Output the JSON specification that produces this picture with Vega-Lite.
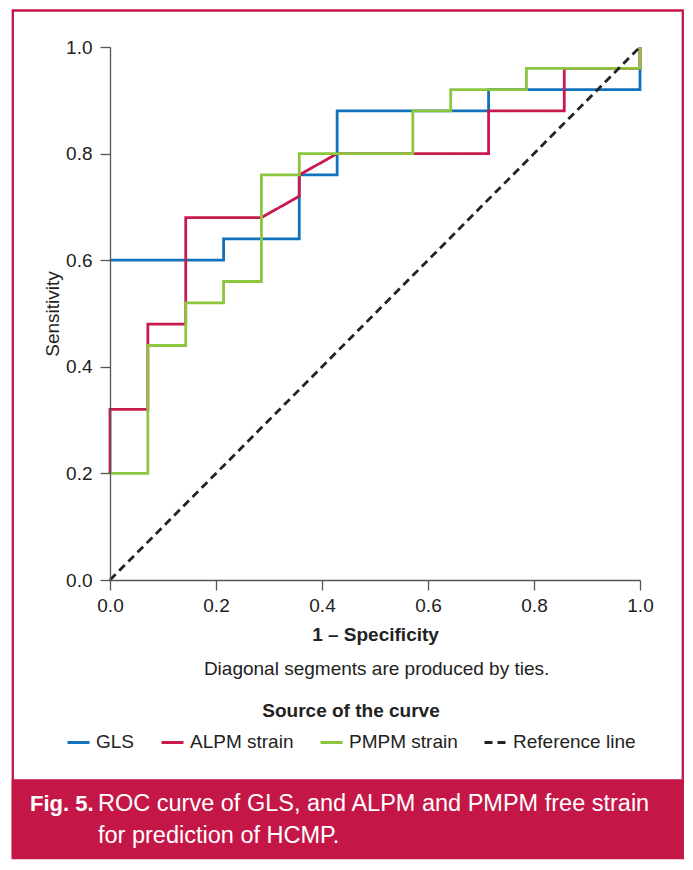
{
  "$schema": "https://vega.github.io/schema/vega-lite/v6.json",
  "width": 530,
  "height": 533,
  "autosize": {"type": "none"},
  "padding": {"left": 110, "top": 47, "right": 53, "bottom": 290},
  "background": "white",
  "data": {
    "values": [
      {"curve": "GLS", "step": 0, "fpr": 0, "tpr": 0.6},
      {"curve": "GLS", "step": 1, "fpr": 0.2143, "tpr": 0.6},
      {"curve": "GLS", "step": 2, "fpr": 0.2143, "tpr": 0.64},
      {"curve": "GLS", "step": 3, "fpr": 0.3571, "tpr": 0.64},
      {"curve": "GLS", "step": 4, "fpr": 0.3571, "tpr": 0.76},
      {"curve": "GLS", "step": 5, "fpr": 0.4286, "tpr": 0.76},
      {"curve": "GLS", "step": 6, "fpr": 0.4286, "tpr": 0.88},
      {"curve": "GLS", "step": 7, "fpr": 0.7143, "tpr": 0.88},
      {"curve": "GLS", "step": 8, "fpr": 0.7143, "tpr": 0.92},
      {"curve": "GLS", "step": 9, "fpr": 1, "tpr": 0.92},
      {"curve": "GLS", "step": 10, "fpr": 1, "tpr": 1},
      {"curve": "ALPM strain", "step": 0, "fpr": 0, "tpr": 0.2},
      {"curve": "ALPM strain", "step": 1, "fpr": 0, "tpr": 0.32},
      {"curve": "ALPM strain", "step": 2, "fpr": 0.0714, "tpr": 0.32},
      {"curve": "ALPM strain", "step": 3, "fpr": 0.0714, "tpr": 0.48},
      {"curve": "ALPM strain", "step": 4, "fpr": 0.1429, "tpr": 0.48},
      {"curve": "ALPM strain", "step": 5, "fpr": 0.1429, "tpr": 0.68},
      {"curve": "ALPM strain", "step": 6, "fpr": 0.2857, "tpr": 0.68},
      {"curve": "ALPM strain", "step": 7, "fpr": 0.3571, "tpr": 0.72},
      {"curve": "ALPM strain", "step": 8, "fpr": 0.3571, "tpr": 0.76},
      {"curve": "ALPM strain", "step": 9, "fpr": 0.4286, "tpr": 0.8},
      {"curve": "ALPM strain", "step": 10, "fpr": 0.7143, "tpr": 0.8},
      {"curve": "ALPM strain", "step": 11, "fpr": 0.7143, "tpr": 0.88},
      {"curve": "ALPM strain", "step": 12, "fpr": 0.8571, "tpr": 0.88},
      {"curve": "ALPM strain", "step": 13, "fpr": 0.8571, "tpr": 0.96},
      {"curve": "ALPM strain", "step": 14, "fpr": 1, "tpr": 0.96},
      {"curve": "ALPM strain", "step": 15, "fpr": 1, "tpr": 1},
      {"curve": "PMPM strain", "step": 0, "fpr": 0, "tpr": 0.2},
      {"curve": "PMPM strain", "step": 1, "fpr": 0.0714, "tpr": 0.2},
      {"curve": "PMPM strain", "step": 2, "fpr": 0.0714, "tpr": 0.44},
      {"curve": "PMPM strain", "step": 3, "fpr": 0.1429, "tpr": 0.44},
      {"curve": "PMPM strain", "step": 4, "fpr": 0.1429, "tpr": 0.52},
      {"curve": "PMPM strain", "step": 5, "fpr": 0.2143, "tpr": 0.52},
      {"curve": "PMPM strain", "step": 6, "fpr": 0.2143, "tpr": 0.56},
      {"curve": "PMPM strain", "step": 7, "fpr": 0.2857, "tpr": 0.56},
      {"curve": "PMPM strain", "step": 8, "fpr": 0.2857, "tpr": 0.76},
      {"curve": "PMPM strain", "step": 9, "fpr": 0.3571, "tpr": 0.76},
      {"curve": "PMPM strain", "step": 10, "fpr": 0.3571, "tpr": 0.8},
      {"curve": "PMPM strain", "step": 11, "fpr": 0.5714, "tpr": 0.8},
      {"curve": "PMPM strain", "step": 12, "fpr": 0.5714, "tpr": 0.88},
      {"curve": "PMPM strain", "step": 13, "fpr": 0.6429, "tpr": 0.88},
      {"curve": "PMPM strain", "step": 14, "fpr": 0.6429, "tpr": 0.92},
      {"curve": "PMPM strain", "step": 15, "fpr": 0.7857, "tpr": 0.92},
      {"curve": "PMPM strain", "step": 16, "fpr": 0.7857, "tpr": 0.96},
      {"curve": "PMPM strain", "step": 17, "fpr": 1, "tpr": 0.96},
      {"curve": "PMPM strain", "step": 18, "fpr": 1, "tpr": 1},
      {"curve": "Reference line", "step": 0, "fpr": 0, "tpr": 0},
      {"curve": "Reference line", "step": 1, "fpr": 1, "tpr": 1}
    ]
  },
  "layer": [
    {
      "data": {"values": [{}]},
      "mark": {"type": "rect", "fill": "white", "stroke": "#c51648", "strokeWidth": 2.3},
      "encoding": {
        "x": {"datum": -0.1834, "type": "quantitative", "scale": {"domain": [0, 1], "nice": false}},
        "x2": {"datum": 1.08075},
        "y": {"datum": 1.06848, "type": "quantitative", "scale": {"domain": [0, 1], "nice": false}},
        "y2": {"datum": -0.52158}
      }
    },
    {
      "data": {"values": [{}]},
      "mark": {"type": "rect", "fill": "#c51648"},
      "encoding": {
        "x": {"datum": -0.18547, "type": "quantitative", "scale": {"domain": [0, 1], "nice": false}},
        "x2": {"datum": 1.08302},
        "y": {"datum": -0.37392, "type": "quantitative", "scale": {"domain": [0, 1], "nice": false}},
        "y2": {"datum": -0.52345}
      }
    },
    {
      "transform": [{"filter": "datum.curve === 'GLS'"}],
      "mark": {"type": "line", "strokeWidth": 2.8, "clip": false},
      "encoding": {
        "x": {"field": "fpr", "type": "quantitative", "scale": {"domain": [0, 1], "nice": false},
          "axis": {"title": "1 – Specificity", "values": [0, 0.2, 0.4, 0.6, 0.8, 1], "format": ".1f", "labelFlush": false, "labelPadding": 6, "titlePadding": 10, "titleFontWeight": "bold", "zindex": 1}},
        "y": {"field": "tpr", "type": "quantitative", "scale": {"domain": [0, 1], "nice": false},
          "axis": {"title": "Sensitivity", "values": [0, 0.2, 0.4, 0.6, 0.8, 1], "format": ".1f", "labelFlush": false, "labelPadding": 8, "titlePadding": 3, "titleFontWeight": "normal", "zindex": 1}},
        "order": {"field": "step", "type": "quantitative"},
        "color": {"field": "curve", "type": "nominal",
          "scale": {"domain": ["GLS", "ALPM strain", "PMPM strain", "Reference line"], "range": ["#1173bb", "#c81a4c", "#8cc63f", "#222222"]},
          "legend": {"title": "Source of the curve", "orient": "none", "legendX": -44, "legendY": 654.7, "direction": "horizontal", "columns": 4, "titleAnchor": "middle", "titleFontSize": 19, "titleFontWeight": "bold", "titleColor": "#222", "titlePadding": 9, "labelFontSize": 19, "labelColor": "#222", "labelOffset": 5, "columnPadding": 20, "symbolType": "stroke", "symbolSize": 484, "symbolStrokeWidth": 3, "padding": 0}},
        "strokeDash": {"field": "curve", "type": "nominal",
          "scale": {"domain": ["GLS", "ALPM strain", "PMPM strain", "Reference line"], "range": [[1, 0], [1, 0], [1, 0], [8, 5]]},
          "legend": {"title": "Source of the curve", "orient": "none", "legendX": -44, "legendY": 654.7, "direction": "horizontal", "columns": 4, "titleAnchor": "middle", "titleFontSize": 19, "titleFontWeight": "bold", "titleColor": "#222", "titlePadding": 9, "labelFontSize": 19, "labelColor": "#222", "labelOffset": 5, "columnPadding": 20, "symbolType": "stroke", "symbolSize": 484, "symbolStrokeWidth": 3, "padding": 0}}
      }
    },
    {
      "transform": [{"filter": "datum.curve === 'ALPM strain'"}],
      "mark": {"type": "line", "strokeWidth": 2.8, "clip": false},
      "encoding": {
        "x": {"field": "fpr", "type": "quantitative", "scale": {"domain": [0, 1], "nice": false}},
        "y": {"field": "tpr", "type": "quantitative", "scale": {"domain": [0, 1], "nice": false}},
        "order": {"field": "step", "type": "quantitative"},
        "color": {"field": "curve", "type": "nominal"},
        "strokeDash": {"field": "curve", "type": "nominal"}
      }
    },
    {
      "transform": [{"filter": "datum.curve === 'PMPM strain'"}],
      "mark": {"type": "line", "strokeWidth": 2.8, "clip": false},
      "encoding": {
        "x": {"field": "fpr", "type": "quantitative", "scale": {"domain": [0, 1], "nice": false}},
        "y": {"field": "tpr", "type": "quantitative", "scale": {"domain": [0, 1], "nice": false}},
        "order": {"field": "step", "type": "quantitative"},
        "color": {"field": "curve", "type": "nominal"},
        "strokeDash": {"field": "curve", "type": "nominal"}
      }
    },
    {
      "transform": [{"filter": "datum.curve === 'Reference line'"}],
      "mark": {"type": "line", "strokeWidth": 2.8, "clip": false},
      "encoding": {
        "x": {"field": "fpr", "type": "quantitative", "scale": {"domain": [0, 1], "nice": false}},
        "y": {"field": "tpr", "type": "quantitative", "scale": {"domain": [0, 1], "nice": false}},
        "order": {"field": "step", "type": "quantitative"},
        "color": {"field": "curve", "type": "nominal"},
        "strokeDash": {"field": "curve", "type": "nominal"}
      }
    },
    {
      "data": {"values": [{}]},
      "mark": {"type": "text", "text": "Diagonal segments are produced by ties.", "fontSize": 19, "color": "#222", "align": "center", "baseline": "alphabetic"},
      "encoding": {
        "x": {"datum": 0.503, "type": "quantitative", "scale": {"domain": [0, 1], "nice": false}},
        "y": {"datum": -0.1782, "type": "quantitative", "scale": {"domain": [0, 1], "nice": false}}
      }
    },
    {
      "data": {"values": [{}]},
      "mark": {"type": "text", "text": "Fig. 5.", "fontSize": 22, "fontWeight": "bold", "color": "white", "align": "left", "baseline": "alphabetic"},
      "encoding": {
        "x": {"datum": -0.1509, "type": "quantitative", "scale": {"domain": [0, 1], "nice": false}},
        "y": {"datum": -0.43433, "type": "quantitative", "scale": {"domain": [0, 1], "nice": false}}
      }
    },
    {
      "data": {"values": [{}]},
      "mark": {"type": "text", "text": "ROC curve of GLS, and ALPM and PMPM free strain", "fontSize": 23.5, "color": "white", "align": "left", "baseline": "alphabetic"},
      "encoding": {
        "x": {"datum": -0.0226, "type": "quantitative", "scale": {"domain": [0, 1], "nice": false}},
        "y": {"datum": -0.43433, "type": "quantitative", "scale": {"domain": [0, 1], "nice": false}}
      }
    },
    {
      "data": {"values": [{}]},
      "mark": {"type": "text", "text": "for prediction of HCMP.", "fontSize": 23.5, "color": "white", "align": "left", "baseline": "alphabetic"},
      "encoding": {
        "x": {"datum": -0.0226, "type": "quantitative", "scale": {"domain": [0, 1], "nice": false}},
        "y": {"datum": -0.49343, "type": "quantitative", "scale": {"domain": [0, 1], "nice": false}}
      }
    }
  ],
  "config": {
    "font": "Liberation Sans",
    "view": {"stroke": null},
    "axis": {
      "domainColor": "#555555",
      "tickColor": "#555555",
      "domainWidth": 1.3,
      "tickWidth": 1.3,
      "tickSize": 10,
      "labelFontSize": 19,
      "titleFontSize": 19,
      "labelColor": "#222222",
      "titleColor": "#222222",
      "labelFont": "Liberation Sans",
      "titleFont": "Liberation Sans",
      "grid": false,
      "zindex": 1
    }
  }
}
